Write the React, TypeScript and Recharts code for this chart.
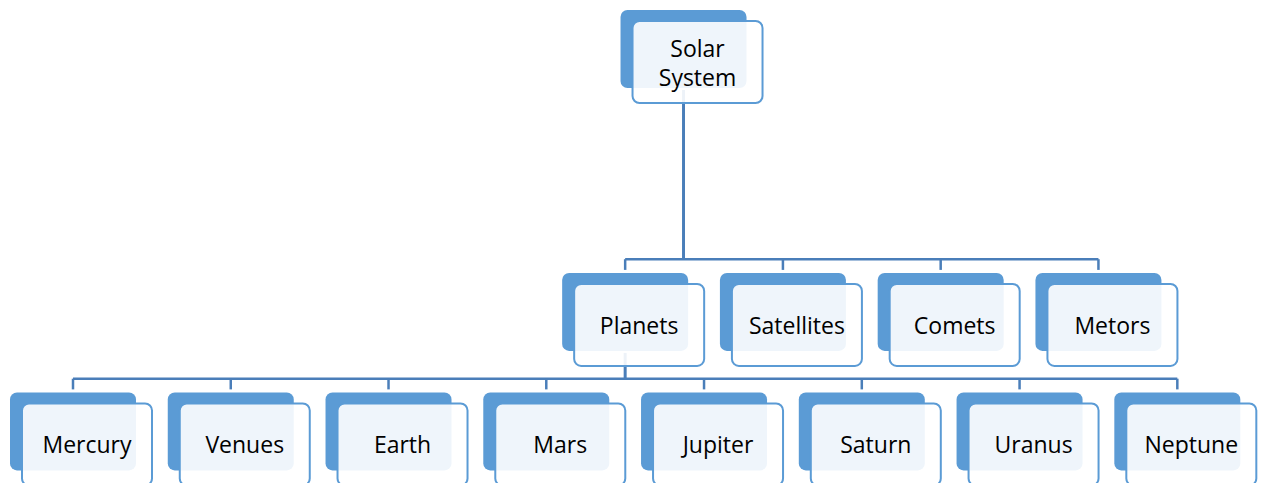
import { ScatterChart, Scatter, XAxis, YAxis, ReferenceLine } from "recharts";

// tree contents
const rootNode = "Solar System";
const branchNodes = ["Planets", "Satellites", "Comets", "Metors"];
const planetNodes = ["Mercury", "Venues", "Earth", "Mars", "Jupiter", "Saturn", "Uranus", "Neptune"];
const planetParent = "Planets";

// layout: x is a leaf slot (column), y is a tier step (row)
const W = 1265;
const H = 483;
const COL_PX = 157.76;
const ROW_PX = 119.5;
const X0_PX = 73; // where column 0 lands
const Y0_PX = 49; // where row 0 lands
const ROOT_COL = 3.87;
const BRANCH_FIRST_COL = 3.5;
const TIER_ROWS = [0, 2.2, 3.2];

const dx = (px: number) => px / COL_PX;
const dy = (px: number) => px / ROW_PX;

const BLUE = "#5b9bd5";
const LINE = "#4a7eb9";

type Node = { x: number; y: number; label: string };

const root: Node = { x: ROOT_COL, y: TIER_ROWS[0], label: rootNode };
const branches: Node[] = branchNodes.map((label, i) => ({ x: BRANCH_FIRST_COL + i, y: TIER_ROWS[1], label }));
const planets: Node[] = planetNodes.map((label, i) => ({ x: i, y: TIER_ROWS[2], label }));
const nodes = [root, ...branches, ...planets];

type Seg = { pts: [{ x: number; y: number }, { x: number; y: number }]; w: number };

// elbow connectors: parent down to a bus, bus across, bus down to each child
function connect(parent: Node, children: Node[]): Seg[] {
  const busY = children[0].y - dy(52.7);
  const segs: Seg[] = [
    { pts: [{ x: parent.x, y: parent.y + dy(41) }, { x: parent.x, y: busY }], w: 3 },
    { pts: [{ x: children[0].x, y: busY }, { x: children[children.length - 1].x, y: busY }], w: 2.5 },
  ];
  children.forEach((c) => {
    segs.push({ pts: [{ x: c.x, y: busY }, { x: c.x, y: c.y - dy(42) }], w: 2.5 });
  });
  return segs;
}

const segments = [
  ...connect(root, branches),
  ...connect(branches.find((b) => b.label === planetParent)!, planets),
];

const NodeShape = (props: any) => {
  const { cx, cy, payload } = props;
  const lines: string[] = payload.label.split(" ");
  const tx = cx + 14;
  const ty = cy + 13 - (lines.length - 1) * 14.5;
  return (
    <g>
      <rect x={cx - 63} y={cy - 39} width={126} height={78} rx={7} fill={BLUE} />
      <rect
        x={cx - 51}
        y={cy - 28}
        width={130}
        height={82}
        rx={7}
        fill="#ffffff"
        fillOpacity={0.9}
        stroke={BLUE}
        strokeWidth={2}
      />
      <text
        x={tx}
        y={ty}
        textAnchor="middle"
        dominantBaseline="central"
        fontFamily="'Open Sans', sans-serif"
        fontSize={23}
        fill="#000"
      >
        {lines.map((l, i) => (
          <tspan key={i} x={tx} dy={i === 0 ? 0 : 29}>
            {l}
          </tspan>
        ))}
      </text>
    </g>
  );
};

function App() {
  return (
    <div style={{ position: "absolute", left: 0, top: 0, background: "#fff" }}>
      <ScatterChart width={W} height={H} margin={{ top: 0, right: 0, bottom: 0, left: 0 }}>
        <XAxis
          type="number"
          dataKey="x"
          hide
          domain={[-dx(X0_PX), dx(W - X0_PX)]}
          allowDataOverflow
        />
        <YAxis
          type="number"
          dataKey="y"
          hide
          reversed
          domain={[-dy(Y0_PX), dy(H - Y0_PX)]}
          allowDataOverflow
        />
        {segments.map((s, i) => (
          <ReferenceLine
            key={i}
            segment={s.pts}
            stroke={LINE}
            strokeWidth={s.w}
            ifOverflow="visible"
          />
        ))}
        <Scatter data={nodes} shape={NodeShape} isAnimationActive={false} />
      </ScatterChart>
    </div>
  );
}

export default App;
